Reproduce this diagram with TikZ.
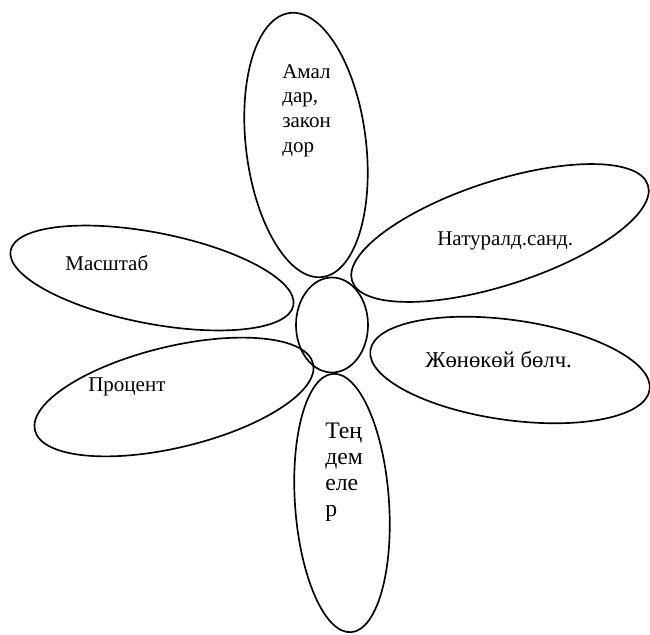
\documentclass[tikz,border=0pt]{standalone}
\usepackage{fontspec}
\setmainfont{Liberation Serif}
\usetikzlibrary{shapes.geometric}
\tikzset{
  petal/.style={draw, ellipse, line width=1pt, inner sep=0pt, outer sep=0pt},
  word/.style={inner sep=0pt, align=left, anchor=base west,
    font=\fontsize{12.6}{14.8}\selectfont}
}
\begin{document}
\begin{tikzpicture}[x=0.6pt, y=-0.6pt]
  \useasboundingbox (0,0) rectangle (650,635);

  % flower centre
  \node[petal, minimum width=72*0.6pt, minimum height=95*0.6pt] (core) at (332,325) {};

  % petals
  \node[petal, minimum width=120*0.6pt, minimum height=266*0.6pt, rotate=7] (amal) at (306,145) {};
  \node[petal, minimum width=311*0.6pt, minimum height=104*0.6pt, rotate=18] (natur) at (500,233) {};
  \node[petal, minimum width=288*0.6pt, minimum height=91*0.6pt, rotate=-11] (masht) at (152,278) {};
  \node[petal, minimum width=286*0.6pt, minimum height=101*0.6pt, rotate=13.5] (proc) at (174,397) {};
  \node[petal, minimum width=282*0.6pt, minimum height=100*0.6pt, rotate=-8] (bolch) at (510,370) {};
  \node[petal, minimum width=94*0.6pt, minimum height=259*0.6pt, rotate=4] (teng) at (342,503) {};

  % labels (base = last line)
  \node[word] (amalt) at (282,152) {Амал\\дар,\\закон\\дор};
  \node[word] (nature) at (437,245) {Натуралд.санд.};
  \node[word] (mashtt) at (65,270) {Масштаб};
  \node[word] (proct) at (88,391) {Процент};
  \node[word, font=\fontsize{13.6}{16}\selectfont] (bolcht) at (425,367) {Жөнөкөй бөлч.};
  \node[word, font=\fontsize{14.2}{15.6}\selectfont] (tengt) at (325,516) {Тең\\дем\\еле\\р};
\end{tikzpicture}
\end{document}
